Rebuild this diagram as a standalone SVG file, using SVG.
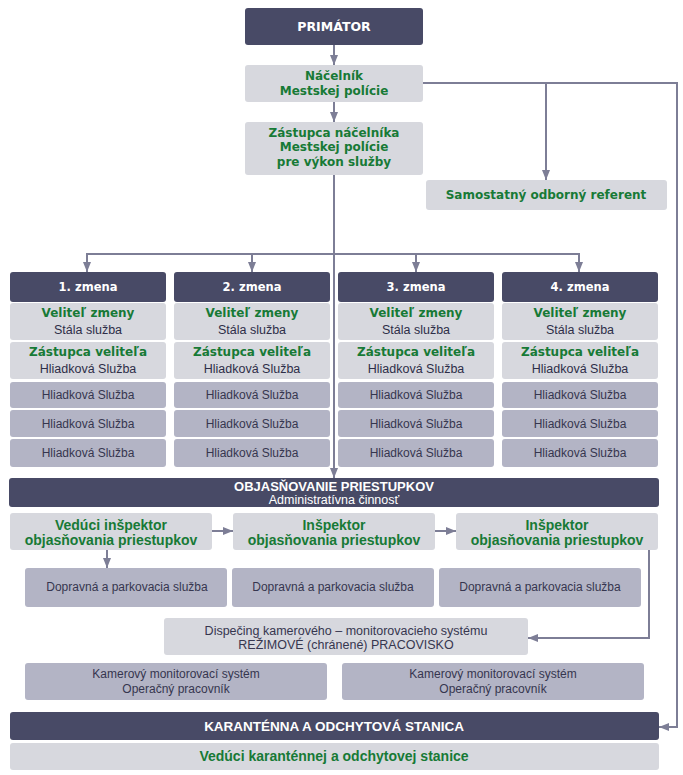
<svg xmlns="http://www.w3.org/2000/svg" width="683" height="775" viewBox="0 0 683 775">
<defs>
<marker id="ah" markerUnits="userSpaceOnUse" markerWidth="10" markerHeight="10" viewBox="0 0 10 10" refX="10" refY="5" orient="auto">
<path d="M0,1 L10,5 L0,9 Z" fill="#7d7e96"/>
</marker>
<style>
.dark{fill:#484a66}
.light{fill:#d7d8de}
.mid{fill:#b3b4c5}
.hw{font-family:"DejaVu Sans",Verdana,sans-serif;font-weight:bold;font-size:11.5px;fill:#ffffff;text-anchor:middle}
.g{font-family:"DejaVu Sans",Verdana,sans-serif;font-weight:bold;font-size:12px;fill:#177a36;text-anchor:middle}
.ga{font-family:"Liberation Sans",Arial,sans-serif;font-weight:bold;font-size:14px;fill:#177a36;text-anchor:middle}
.t{font-family:"Liberation Sans",Arial,sans-serif;font-size:12px;fill:#36364f;text-anchor:middle}
.ts{font-family:"Liberation Sans",Arial,sans-serif;font-size:12.5px;fill:#2e2e48;text-anchor:middle}
.bw{font-family:"Liberation Sans",Arial,sans-serif;font-weight:bold;font-size:13.5px;fill:#ffffff;text-anchor:middle}
.tw{font-family:"Liberation Sans",Arial,sans-serif;font-size:13px;fill:#ffffff;text-anchor:middle}
.ln{fill:none;stroke:#7d7e96;stroke-width:2}
</style>
</defs>

<g id="connectors">
<line class="ln" x1="334" y1="45" x2="334" y2="65" marker-end="url(#ah)"/>
<line class="ln" x1="334" y1="102" x2="334" y2="122" marker-end="url(#ah)"/>
<line class="ln" x1="334" y1="175" x2="334" y2="478" marker-end="url(#ah)"/>
<polyline class="ln" points="423,83 677,83 677,727 659,727" marker-end="url(#ah)"/>
<line class="ln" x1="546" y1="83" x2="546" y2="180" marker-end="url(#ah)"/>
<line class="ln" x1="86" y1="254" x2="580" y2="254"/>
<line class="ln" x1="87" y1="254" x2="87" y2="272" marker-end="url(#ah)"/>
<line class="ln" x1="252" y1="254" x2="252" y2="272" marker-end="url(#ah)"/>
<line class="ln" x1="416" y1="254" x2="416" y2="272" marker-end="url(#ah)"/>
<line class="ln" x1="579" y1="254" x2="579" y2="272" marker-end="url(#ah)"/>
<line class="ln" x1="212" y1="531" x2="233" y2="531" marker-end="url(#ah)"/>
<line class="ln" x1="435" y1="531" x2="456" y2="531" marker-end="url(#ah)"/>
<line class="ln" x1="107" y1="550" x2="107" y2="568" marker-end="url(#ah)"/>
<polyline class="ln" points="649,550 649,638 528,638" marker-end="url(#ah)"/>
</g>

<g id="primator"><rect class="dark" x="245" y="8" width="178" height="37" rx="3"/><text class="hw" x="334" y="31" style="font-size:12.5px">PRIMÁTOR</text></g>
<g id="nacelnik"><rect class="light" x="245" y="65" width="178" height="37" rx="3"/><text class="g" x="334" y="80">Náčelník</text><text class="g" x="334" y="95">Mestskej polície</text></g>
<g id="zastupca"><rect class="light" x="245" y="122" width="178" height="53" rx="3"/><text class="g" x="334" y="137">Zástupca náčelníka</text><text class="g" x="334" y="151">Mestskej polície</text><text class="g" x="334" y="166">pre výkon služby</text></g>
<g id="referent"><rect class="light" x="426" y="180" width="241" height="30" rx="3"/><text class="g" x="546" y="199">Samostatný odborný referent</text></g>

<g id="zmena1">
<rect class="dark" x="10" y="272" width="156" height="30" rx="3"/><text class="hw" x="88" y="291">1. zmena</text>
<rect class="light" x="10" y="303" width="156" height="37" rx="3"/><text class="g" x="88" y="317">Veliteľ zmeny</text><text class="ts" x="88" y="334">Stála služba</text>
<rect class="light" x="10" y="342" width="156" height="37" rx="3"/><text class="g" x="88" y="356">Zástupca veliteľa</text><text class="ts" x="88" y="373">Hliadková Služba</text>
<rect class="mid" x="10" y="382" width="156" height="26" rx="3"/><text class="t" x="88" y="399">Hliadková Služba</text>
<rect class="mid" x="10" y="410" width="156" height="27" rx="3"/><text class="t" x="88" y="428">Hliadková Služba</text>
<rect class="mid" x="10" y="439" width="156" height="28" rx="3"/><text class="t" x="88" y="457">Hliadková Služba</text>
</g>
<g id="zmena2">
<rect class="dark" x="174" y="272" width="156" height="30" rx="3"/><text class="hw" x="252" y="291">2. zmena</text>
<rect class="light" x="174" y="303" width="156" height="37" rx="3"/><text class="g" x="252" y="317">Veliteľ zmeny</text><text class="ts" x="252" y="334">Stála služba</text>
<rect class="light" x="174" y="342" width="156" height="37" rx="3"/><text class="g" x="252" y="356">Zástupca veliteľa</text><text class="ts" x="252" y="373">Hliadková Služba</text>
<rect class="mid" x="174" y="382" width="156" height="26" rx="3"/><text class="t" x="252" y="399">Hliadková Služba</text>
<rect class="mid" x="174" y="410" width="156" height="27" rx="3"/><text class="t" x="252" y="428">Hliadková Služba</text>
<rect class="mid" x="174" y="439" width="156" height="28" rx="3"/><text class="t" x="252" y="457">Hliadková Služba</text>
</g>
<g id="zmena3">
<rect class="dark" x="338" y="272" width="156" height="30" rx="3"/><text class="hw" x="416" y="291">3. zmena</text>
<rect class="light" x="338" y="303" width="156" height="37" rx="3"/><text class="g" x="416" y="317">Veliteľ zmeny</text><text class="ts" x="416" y="334">Stála služba</text>
<rect class="light" x="338" y="342" width="156" height="37" rx="3"/><text class="g" x="416" y="356">Zástupca veliteľa</text><text class="ts" x="416" y="373">Hliadková Služba</text>
<rect class="mid" x="338" y="382" width="156" height="26" rx="3"/><text class="t" x="416" y="399">Hliadková Služba</text>
<rect class="mid" x="338" y="410" width="156" height="27" rx="3"/><text class="t" x="416" y="428">Hliadková Služba</text>
<rect class="mid" x="338" y="439" width="156" height="28" rx="3"/><text class="t" x="416" y="457">Hliadková Služba</text>
</g>
<g id="zmena4">
<rect class="dark" x="502" y="272" width="156" height="30" rx="3"/><text class="hw" x="580" y="291">4. zmena</text>
<rect class="light" x="502" y="303" width="156" height="37" rx="3"/><text class="g" x="580" y="317">Veliteľ zmeny</text><text class="ts" x="580" y="334">Stála služba</text>
<rect class="light" x="502" y="342" width="156" height="37" rx="3"/><text class="g" x="580" y="356">Zástupca veliteľa</text><text class="ts" x="580" y="373">Hliadková Služba</text>
<rect class="mid" x="502" y="382" width="156" height="26" rx="3"/><text class="t" x="580" y="399">Hliadková Služba</text>
<rect class="mid" x="502" y="410" width="156" height="27" rx="3"/><text class="t" x="580" y="428">Hliadková Služba</text>
<rect class="mid" x="502" y="439" width="156" height="28" rx="3"/><text class="t" x="580" y="457">Hliadková Služba</text>
</g>

<g id="objasnovanie"><rect class="dark" x="9" y="478" width="650" height="29" rx="3"/><text class="bw" x="334" y="491" style="font-size:13px">OBJASŇOVANIE PRIESTUPKOV</text><text class="tw" x="334" y="504" style="font-size:12.5px">Administratívna činnosť</text></g>
<g id="veduci-inspektor"><rect class="light" x="10" y="513" width="202" height="37" rx="3"/><text class="ga" x="111" y="530">Vedúci inšpektor</text><text class="ga" x="111" y="545">objasňovania priestupkov</text></g>
<g id="inspektor1"><rect class="light" x="233" y="513" width="202" height="37" rx="3"/><text class="ga" x="334" y="530">Inšpektor</text><text class="ga" x="334" y="545">objasňovania priestupkov</text></g>
<g id="inspektor2"><rect class="light" x="456" y="513" width="202" height="37" rx="3"/><text class="ga" x="557" y="530">Inšpektor</text><text class="ga" x="557" y="545">objasňovania priestupkov</text></g>
<g id="dopravna1"><rect class="mid" x="25" y="568" width="202" height="39" rx="3"/><text class="t" x="127" y="591">Dopravná a parkovacia služba</text></g>
<g id="dopravna2"><rect class="mid" x="232" y="568" width="202" height="39" rx="3"/><text class="t" x="333" y="591">Dopravná a parkovacia služba</text></g>
<g id="dopravna3"><rect class="mid" x="439" y="568" width="202" height="39" rx="3"/><text class="t" x="540" y="591">Dopravná a parkovacia služba</text></g>
<g id="dispecing"><rect class="light" x="164" y="618" width="364" height="37" rx="3"/><text class="t" x="346" y="635" style="font-size:12.5px">Dispečing kamerového – monitorovacieho systému</text><text class="t" x="346" y="649" style="font-size:12.5px">REŽIMOVÉ (chránené) PRACOVISKO</text></g>
<g id="kamerovy1"><rect class="mid" x="25" y="663" width="302" height="37" rx="3"/><text class="t" x="176" y="678">Kamerový monitorovací systém</text><text class="t" x="176" y="693">Operačný pracovník</text></g>
<g id="kamerovy2"><rect class="mid" x="342" y="663" width="302" height="37" rx="3"/><text class="t" x="493" y="678">Kamerový monitorovací systém</text><text class="t" x="493" y="693">Operačný pracovník</text></g>
<g id="karantena"><rect class="dark" x="10" y="712" width="649" height="28" rx="3"/><text class="bw" x="334" y="731">KARANTÉNNA A ODCHYTOVÁ STANICA</text></g>
<g id="veduci-karantena"><rect class="light" x="10" y="743" width="649" height="27" rx="3"/><text class="ga" x="334" y="761">Vedúci karanténnej a odchytovej stanice</text></g>
</svg>
